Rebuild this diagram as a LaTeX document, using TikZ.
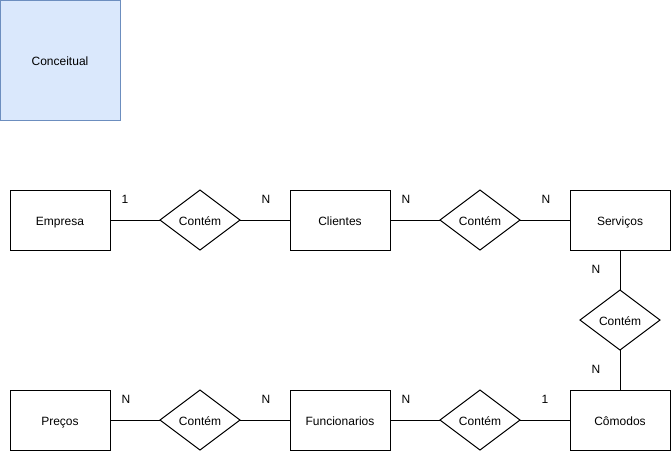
\documentclass[tikz,border=0pt]{standalone}
\usepackage{fontspec}
\setmainfont{Liberation Sans}
\usetikzlibrary{shapes.geometric}
\definecolor{conceptfill}{HTML}{DAE8FC}
\definecolor{conceptline}{HTML}{6C8EBF}
\begin{document}
\begin{tikzpicture}[x=1pt,y=-1pt,
  every node/.style={font=\fontsize{12}{14}\selectfont, inner sep=0pt, outer sep=0pt,
    text height=11pt, text depth=0pt},
  entity/.style={draw, line width=1pt, minimum width=100pt, minimum height=60pt},
  relation/.style={draw, line width=1pt, diamond, aspect=1.3333, minimum width=80pt, minimum height=60pt},
  card/.style={font=\fontsize{12}{14}\selectfont},
  link/.style={line width=1pt}]
\useasboundingbox (0,0) rectangle (671,451);

% title box
\node[draw=conceptline, fill=conceptfill, line width=1pt, minimum width=120pt, minimum height=120pt] (conc) at (60,60) {Conceitual};

% top row
\node[entity] (empresa) at (60,220) {Empresa};
\node[relation] (r1) at (200,220) {Contém};
\node[entity] (clientes) at (340,220) {Clientes};
\node[relation] (r2) at (480,220) {Contém};
\node[entity] (servicos) at (620,220) {Serviços};

% right column
\node[relation] (r3) at (620,320) {Contém};

% bottom row
\node[entity] (comodos) at (620,420) {Cômodos};
\node[relation] (r4) at (480,420) {Contém};
\node[entity] (func) at (340,420) {Funcionarios};
\node[relation] (r5) at (200,420) {Contém};
\node[entity] (precos) at (60,420) {Preços};

% connectors
\draw[link] (empresa) -- (r1) -- (clientes);
\draw[link] (clientes) -- (r2) -- (servicos);
\draw[link] (servicos) -- (r3) -- (comodos);
\draw[link] (comodos) -- (r4) -- (func);
\draw[link] (func) -- (r5) -- (precos);

% cardinalities
\node[card] (c1) at (125,198) {1};
\node[card] (c2) at (266,198) {N};
\node[card] (c3) at (406,198) {N};
\node[card] (c4) at (546,198) {N};
\node[card] (c5) at (596,268) {N};
\node[card] (c6) at (596,368) {N};
\node[card] (c7) at (545,398) {1};
\node[card] (c8) at (406,398) {N};
\node[card] (c9) at (266,398) {N};
\node[card] (c10) at (126,398) {N};
\end{tikzpicture}
\end{document}
